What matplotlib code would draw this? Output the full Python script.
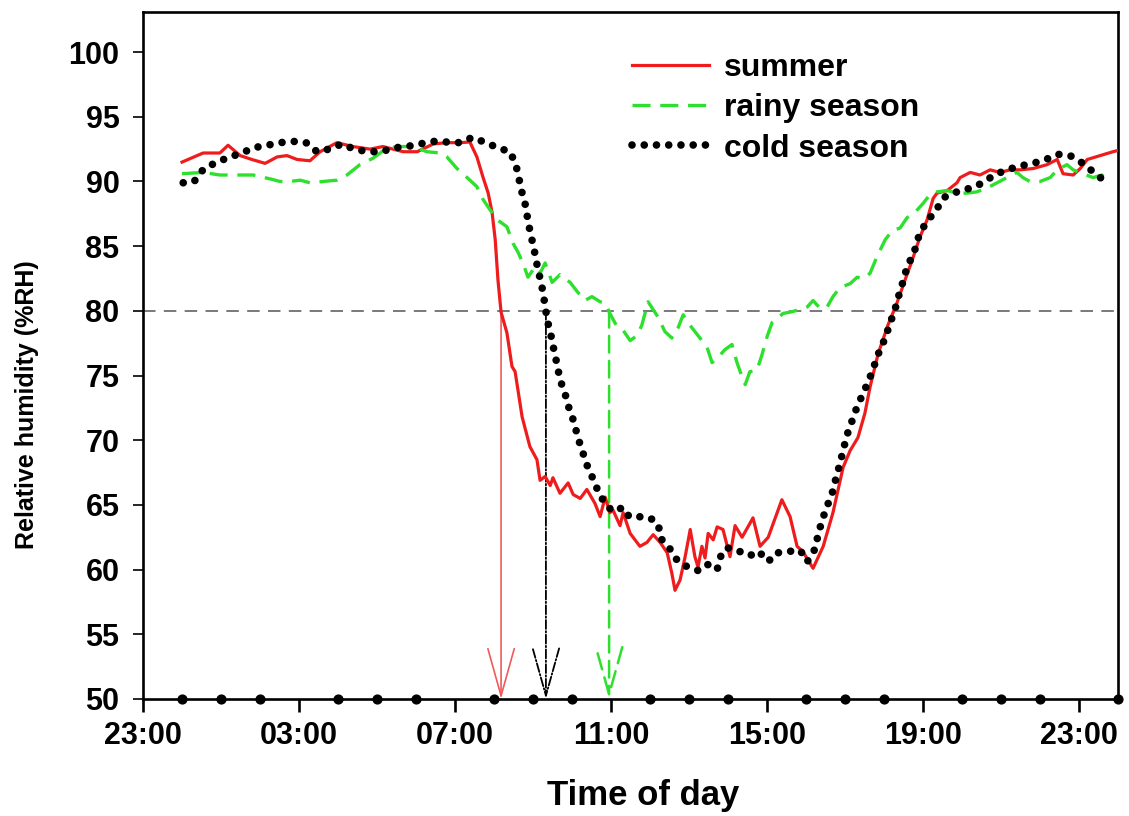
import matplotlib
matplotlib.use("Agg")
import matplotlib.pyplot as plt

plt.rcParams["font.family"] = ["Liberation Sans", "DejaVu Sans"]
plt.rcParams["font.weight"] = "bold"
plt.rcParams["lines.scale_dashes"] = False

# hours counted from 23:00 of the previous day
summer_h = [1.00, 1.54, 1.97, 2.18, 2.49, 2.79, 3.13, 3.44, 3.69, 3.95, 4.28, 4.54, 4.97,
            5.38, 5.82, 6.15, 6.67, 7.03, 7.44, 7.79, 8.13, 8.38, 8.56, 8.72, 8.85, 8.95,
            9.03, 9.10, 9.18, 9.33, 9.46, 9.54, 9.72, 9.92, 10.10, 10.18, 10.31, 10.44,
            10.51, 10.69, 10.90, 11.03, 11.21, 11.38, 11.59, 11.72, 11.85, 11.97, 12.05,
            12.23, 12.31, 12.49, 12.74, 12.92, 13.08, 13.26, 13.44, 13.56, 13.64, 13.77,
            13.90, 14.03, 14.15, 14.23, 14.33, 14.41, 14.49, 14.62, 14.72, 14.87, 15.05,
            15.18, 15.36, 15.51, 15.64, 15.82, 16.03, 16.38, 16.59, 16.77, 16.92, 17.18,
            17.44, 17.69, 17.95, 18.13, 18.33, 18.51, 18.64, 18.85, 19.10, 19.33, 19.54,
            19.72, 19.92, 20.10, 20.26, 20.36, 20.62, 20.87, 20.95, 21.21, 21.46, 21.72,
            21.97, 22.23, 22.49, 22.82, 23.18, 23.44, 23.59, 23.85, 24.03, 24.21, 24.54,
            24.87, 25.00]
summer_rh = [91.5, 92.2, 92.2, 92.8, 92.0, 91.7, 91.4, 91.9, 92.0, 91.7, 91.6, 92.3, 93.0,
             92.7, 92.5, 92.7, 92.3, 92.3, 92.9, 93.0, 93.0, 93.05, 91.9, 90.3, 89.1, 87.6,
             85.5, 82.4, 79.9, 78.3, 75.7, 75.3, 71.8, 69.5, 68.5, 66.9, 67.2, 66.5,
             67.1, 65.9, 66.7, 65.8, 65.5, 66.2, 65.1, 64.1, 65.6, 64.4, 64.6,
             63.4, 64.4, 62.8, 61.8, 62.1, 62.7, 62.1, 61.3, 59.7, 58.4, 59.2,
             61.0, 63.1, 61.0, 60.2, 61.8, 60.9, 62.8, 62.3, 63.3, 63.1, 61.0,
             63.4, 62.5, 63.3, 64.0, 61.8, 62.5, 65.4, 64.1, 61.8, 61.4, 60.1,
             61.8, 64.4, 67.9, 69.2, 70.2, 72.1, 74.1, 76.7, 78.9, 80.6, 82.4,
             83.9, 85.7, 87.0, 88.7, 89.1, 89.3, 89.9, 90.3, 90.7, 90.5, 90.9,
             90.7, 90.9, 90.9, 91.0, 91.3, 91.7, 90.6, 90.5, 91.0, 91.7, 92.0,
             92.3, 92.4]

rainy_h = [1.00, 1.54, 1.97, 2.41, 2.82, 3.26, 3.51, 3.77, 4.03, 4.28, 4.62, 4.97, 5.23,
           5.56, 5.90, 6.26, 6.59, 6.92, 7.28, 7.62, 7.79, 8.05, 8.31, 8.56, 8.72, 8.90,
           9.10, 9.33, 9.49, 9.62, 9.74, 9.87, 10.05, 10.18, 10.31, 10.49, 10.69, 10.95,
           11.13, 11.33, 11.51, 11.72, 11.85, 11.97, 12.15, 12.31, 12.49, 12.67, 12.79,
           12.95, 13.08, 13.21, 13.38, 13.56, 13.72, 13.85, 13.97, 14.15, 14.28, 14.46,
           14.59, 14.74, 14.92, 15.10, 15.23, 15.36, 15.44, 15.56, 15.74, 15.87, 16.00,
           16.13, 16.26, 16.41, 16.59, 16.85, 17.03, 17.18, 17.36, 17.54, 17.69, 17.87,
           18.13, 18.31, 18.46, 18.64, 18.82, 19.03, 19.21, 19.41, 19.59, 19.79, 20.00,
           20.18, 20.36, 20.62, 20.87, 21.13, 21.38, 21.64, 21.90, 22.15, 22.41, 22.56,
           22.74, 23.00, 23.26, 23.44, 23.69, 23.85, 24.10, 24.36, 24.59, 24.72]
rainy_rh = [90.6, 90.7, 90.5, 90.5, 90.5, 90.2, 90.0, 90.0, 90.1, 89.9, 90.0, 90.1, 90.5,
            91.3, 91.8, 92.6, 92.7, 92.7, 92.3, 92.2, 91.9, 91.0, 90.3, 89.6, 88.6, 87.8,
            87.0, 86.5, 85.2, 84.5, 83.7, 82.6, 83.4, 82.9, 83.7, 82.2, 82.8, 82.2,
            81.5, 80.8, 81.1, 80.7, 80.6, 79.8, 78.8, 78.5, 77.7, 78.1, 78.9,
            80.7, 80.1, 79.5, 78.4, 77.9, 78.7, 79.7, 79.1, 78.4, 77.9, 77.2,
            76.0, 76.4, 77.0, 77.4, 76.0, 74.9, 74.3, 75.3, 75.4, 76.6, 78.0,
            79.1, 79.4, 79.8, 79.9, 80.1, 80.3, 80.8, 80.2, 80.3, 81.1, 81.8,
            82.1, 82.6, 82.5, 82.9, 84.2, 85.5, 86.2, 86.4, 87.2, 87.6, 88.3,
            89.0, 89.2, 89.3, 89.1, 89.1, 89.2, 89.5, 89.9, 90.3, 90.7, 90.3,
            90.0, 90.0, 90.3, 90.9, 91.3, 90.9, 90.6, 90.3, 90.5, 90.0]

cold_h = [1.03, 1.31, 1.56, 1.90, 2.23, 2.54, 2.82, 3.18, 3.51, 3.85, 4.18, 4.46, 4.77,
          5.10, 5.41, 5.77, 6.10, 6.44, 6.77, 7.10, 7.44, 7.79, 8.13, 8.44, 8.79, 9.10,
          9.41, 9.56, 9.64, 9.72, 9.82, 9.87, 9.95, 10.03, 10.10, 10.18, 10.26, 10.31,
          10.38, 10.46, 10.54, 10.62, 10.69, 10.82, 10.92, 11.05, 11.15, 11.26, 11.38,
          11.54, 11.69, 11.87, 12.05, 12.31, 12.46, 12.69, 13.00, 13.21, 13.28, 13.51,
          13.72, 13.97, 14.26, 14.49, 14.72, 14.82, 14.97, 15.28, 15.54, 15.67, 15.92,
          16.08, 16.28, 16.54, 16.85, 17.03, 17.23, 17.31, 17.41, 17.54, 17.67, 17.77,
          17.87, 17.95, 18.05, 18.18, 18.31, 18.46, 18.62, 18.74, 18.87, 19.03, 19.15,
          19.28, 19.38, 19.49, 19.59, 19.77, 19.87, 20.05, 20.31, 20.56, 20.87, 21.23,
          21.54, 21.82, 22.15, 22.49, 22.82, 23.15, 23.46, 23.77, 24.10, 24.38, 24.67]
cold_rh = [89.9, 90.0, 91.0, 91.5, 91.9, 92.2, 92.6, 92.8, 93.0, 93.1, 93.0, 92.3, 92.5,
           92.9, 92.5, 92.3, 92.3, 92.6, 92.7, 92.9, 93.1, 93.05, 93.0, 93.4, 93.0, 92.6,
           92.3, 91.3, 90.2, 89.1, 88.0, 86.9, 85.8, 84.7, 83.6, 82.5, 81.4, 80.3,
           79.1, 78.1, 76.9, 75.8, 74.7, 73.6, 72.5, 71.4, 70.2, 69.2, 68.1,
           67.0, 65.9, 65.0, 64.5, 64.8, 64.1, 64.1, 64.0, 63.5, 62.4, 61.6,
           60.6, 60.2, 59.9, 60.4, 60.0, 61.1, 61.7, 61.4, 61.3, 60.9, 61.3,
           60.7, 61.3, 61.4, 61.5, 60.6, 61.6, 62.7, 63.8, 64.9, 65.9, 67.1,
           68.2, 69.2, 70.4, 71.5, 72.6, 73.6, 74.7, 75.7, 76.8, 77.9, 79.0,
           80.1, 81.2, 82.3, 83.4, 84.5, 85.6, 86.7, 87.7, 88.8, 89.2, 89.5,
           89.9, 90.5, 90.9, 91.2, 91.4, 91.7, 92.1, 92.0, 91.4, 90.7, 90.0]

# time at which each season drops below 80 %RH
cross_h = {"summer": 9.18, "cold": 10.33, "rainy": 11.95}
threshold = 80

tick_hours = [0, 4, 8, 12, 16, 20, 24]
tick_labels = ["23:00", "03:00", "07:00", "11:00", "15:00", "19:00", "23:00"]
hour_dots = [h for h in range(1, 26) if h % 4 != 0]

RED = "#ee1c1c"
GREEN = "#2ee02e"

fig = plt.figure(figsize=(11.29, 8.16), dpi=100)
ax = fig.add_axes([0.1267, 0.1434, 0.8636, 0.8419])

ax.axhline(threshold, color="#555555", lw=1.1, dashes=(9, 6), zorder=1)

ax.plot(summer_h, summer_rh, color=RED, lw=2.3, label="summer", zorder=3)
ax.plot(rainy_h, rainy_rh, color=GREEN, lw=2.4, dashes=(13, 7), label="rainy season", zorder=4)
ax.plot(cold_h, cold_rh, color="black", lw=5.5, dashes=(0.01, 8.8),
        dash_capstyle="round", label="cold season", zorder=5)

arrows = [
    (cross_h["summer"], "#f05a5a", "-", 1.2),
    (cross_h["cold"], "black", "-.", 1.3),
    (cross_h["rainy"], GREEN, (0, (12, 6)), 1.8),
]
for x, c, ls, lw in arrows:
    ax.annotate("", xy=(x, 50), xytext=(x, threshold),
                arrowprops=dict(arrowstyle="->,head_length=3.4,head_width=0.95",
                                color=c, lw=lw, linestyle=ls, shrinkA=0, shrinkB=0),
                zorder=2)

ax.scatter(hour_dots, [50] * len(hour_dots), s=40, color="black", zorder=6, clip_on=False)

ax.set_xlim(0, 25)
ax.set_ylim(50, 103.1)
ax.set_xticks(tick_hours)
ax.set_xticklabels(tick_labels)
ax.set_yticks(range(50, 101, 5))

for sp in ax.spines.values():
    sp.set_linewidth(1.9)
ax.tick_params(axis="x", direction="out", length=9, width=1.9, labelsize=22, pad=7)
ax.tick_params(axis="y", direction="out", length=7, width=1.2, labelsize=22, pad=10)

ax.set_xlabel("Time of day", fontsize=25, fontweight="bold")
ax.xaxis.set_label_coords(0.513, -0.117)
ax.set_ylabel("Relative humidity (%RH)", fontsize=18, fontweight="bold")
ax.yaxis.set_label_coords(-0.107, 0.428)

leg = ax.legend(loc="upper left", bbox_to_anchor=(0.502, 0.94), frameon=False,
                fontsize=23, handlelength=2.4, handletextpad=0.45, labelspacing=0.32,
                borderpad=0, borderaxespad=0)
for t in leg.get_texts():
    t.set_fontweight("bold")

fig.savefig("out.png", dpi=100)
